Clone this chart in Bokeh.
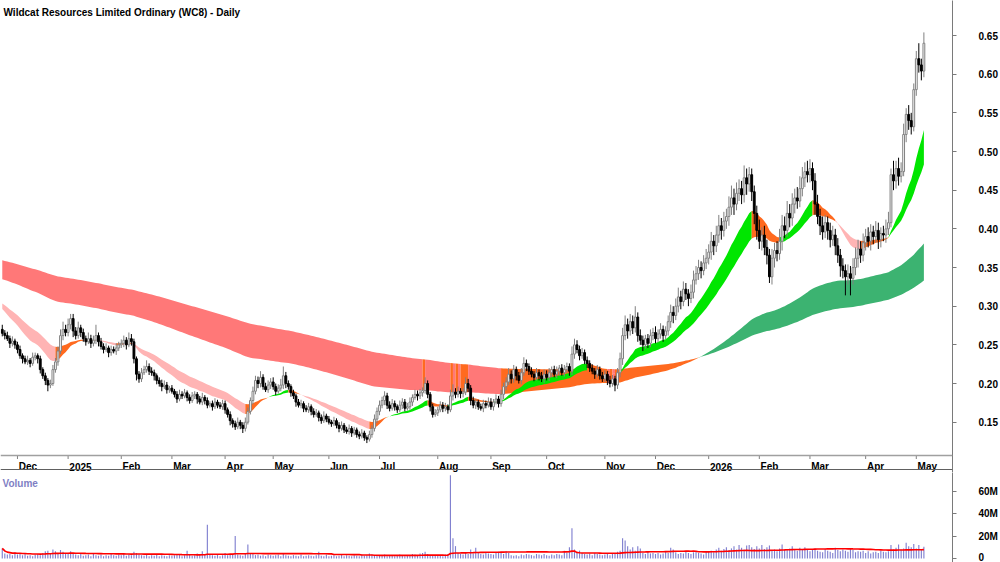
import numpy as np
import pandas as pd
from bokeh.plotting import figure
from bokeh.layouts import column
from bokeh.models import Range1d, FixedTicker, Span, Label, NumeralTickFormatter
from bokeh.core.properties import value
from bokeh.embed import file_html
from bokeh.resources import INLINE

# ---------------- data (prices in thousandths of a dollar, one list per month) -------------
month_labels = ["", "Dec", "2025", "Feb", "Mar", "Apr", "May", "Jun", "Jul", "Aug", "Sep",
                "Oct", "Nov", "Dec", "2026", "Feb", "Mar", "Apr", "May"]

close_k = [
    [265, 262, 258, 252, 255, 250],
    [244, 236, 232, 228, 230, 226, 234, 236, 232, 218, 210, 204, 198, 200, 218, 228, 242, 262, 270, 266],
    [276, 284, 268, 262, 272, 266, 258, 254, 258, 252, 256, 262, 254, 248, 244, 246, 240, 244, 242, 246, 250],
    [252, 256, 250, 258, 254, 232, 212, 206, 214, 218, 222, 216, 214, 210, 204, 200, 196, 198, 192, 194],
    [190, 186, 180, 186, 184, 188, 182, 178, 184, 186, 180, 176, 182, 178, 172, 174, 170, 176, 172, 170, 174],
    [166, 160, 152, 148, 144, 150, 146, 142, 150, 164, 178, 190, 204, 200, 208, 196, 192, 198, 202],
    [196, 190, 194, 198, 210, 200, 196, 188, 184, 176, 172, 174, 168, 166, 170, 164, 160, 162, 156, 152, 158, 154],
    [150, 148, 152, 146, 142, 146, 140, 138, 142, 136, 140, 134, 132, 136, 130, 128, 134, 142, 154, 164],
    [172, 178, 184, 172, 168, 174, 170, 166, 172, 176, 168, 170, 176, 182, 186, 184, 188, 191, 200, 186, 170, 160, 162],
    [166, 172, 168, 170, 166, 184, 189, 186, 190, 187, 189, 200, 194, 178, 172, 176, 170, 168, 174, 172, 176],
    [170, 176, 180, 174, 186, 196, 202, 212, 206, 218, 210, 204, 214, 226, 222, 216, 212, 208, 214, 210, 206, 212],
    [208, 214, 218, 212, 216, 220, 214, 218, 222, 216, 238, 250, 244, 236, 240, 230, 226, 220, 216, 212, 218, 210, 206],
    [212, 204, 200, 206, 198, 214, 232, 262, 276, 268, 280, 272, 286, 262, 256, 250, 258, 252, 262, 266],
    [258, 264, 270, 262, 268, 280, 292, 288, 300, 312, 306, 322, 316, 310, 318, 334, 342, 350, 346, 356, 362],
    [370, 384, 378, 392, 404, 398, 410, 416, 428, 440, 432, 446, 452, 444, 466, 458, 470, 448, 420, 398],
    [384, 392, 376, 366, 338, 362, 372, 368, 384, 404, 398, 420, 414, 432, 440, 436, 452, 466, 474, 470],
    [478, 462, 432, 416, 404, 396, 408, 398, 386, 392, 378, 366, 352, 346, 338, 342, 336, 350, 362, 374, 366, 382],
    [390, 384, 396, 390, 398, 386, 394, 392, 400, 408, 470, 462, 478, 468, 474, 522, 548, 540, 532, 580],
    [620, 612, 604, 640],
]
upper_wick_k = [
    [6, 4, 5, 4, 6, 3],
    [4, 5, 3, 4, 6, 3, 6, 4, 3, 4, 3, 4, 3, 5, 6, 5, 6, 8, 10, 6],
    [8, 6, 6, 5, 8, 4, 5, 4, 8, 5, 6, 14, 4, 5, 4, 6, 3, 5, 4, 6, 4],
    [5, 6, 4, 8, 6, 4, 3, 4, 6, 5, 8, 4, 5, 4, 3, 4, 5, 6, 4, 3],
    [4, 3, 4, 6, 4, 5, 3, 4, 5, 4, 3, 4, 6, 3, 4, 3, 4, 5, 3, 4, 5],
    [4, 3, 4, 3, 4, 6, 3, 4, 6, 5, 4, 6, 6, 5, 8, 4, 5, 6, 5],
    [6, 4, 5, 8, 12, 5, 4, 3, 4, 3, 4, 5, 3, 4, 5, 3, 4, 5, 3, 4, 6, 3],
    [4, 3, 5, 3, 4, 5, 3, 4, 5, 3, 4, 3, 4, 5, 3, 3, 5, 4, 6, 5],
    [6, 5, 6, 4, 5, 6, 4, 3, 6, 5, 4, 5, 6, 4, 6, 5, 5, 4, 8, 4, 3, 4, 5],
    [4, 5, 4, 5, 3, 8, 10, 5, 6, 4, 5, 8, 6, 4, 5, 4, 3, 4, 5, 4, 6],
    [5, 4, 6, 4, 6, 5, 6, 8, 5, 6, 4, 5, 6, 8, 5, 4, 5, 4, 6, 4, 5, 6],
    [5, 6, 4, 5, 6, 4, 5, 6, 5, 4, 10, 8, 6, 5, 6, 4, 5, 4, 5, 4, 6, 4, 5],
    [5, 4, 6, 5, 4, 6, 8, 10, 12, 8, 10, 8, 14, 6, 8, 6, 5, 6, 8, 6],
    [8, 6, 8, 5, 6, 8, 10, 8, 10, 12, 8, 10, 8, 6, 10, 12, 10, 10, 8, 10, 12],
    [10, 12, 8, 12, 14, 10, 12, 10, 14, 16, 12, 14, 12, 10, 16, 12, 10, 8, 8, 10],
    [14, 10, 12, 10, 8, 12, 10, 12, 16, 14, 12, 16, 12, 14, 12, 14, 16, 14, 12, 14],
    [12, 8, 10, 12, 10, 12, 10, 8, 10, 12, 8, 10, 8, 10, 8, 12, 10, 12, 14, 12, 10, 12],
    [10, 12, 10, 8, 12, 10, 8, 10, 12, 14, 8, 18, 10, 14, 12, 14, 8, 12, 10, 8],
    [10, 20, 8, 14],
]
lower_wick_k = [
    [4, 5, 3, 6, 4, 5],
    [5, 4, 6, 3, 4, 5, 3, 4, 6, 5, 4, 6, 8, 4, 3, 4, 5, 4, 6, 5],
    [5, 6, 8, 5, 4, 6, 4, 5, 3, 6, 4, 5, 6, 4, 5, 3, 6, 4, 3, 5, 4],
    [4, 5, 6, 3, 5, 6, 8, 5, 4, 3, 4, 5, 4, 6, 5, 4, 6, 3, 5, 4],
    [3, 4, 5, 3, 4, 3, 5, 4, 3, 4, 6, 3, 4, 5, 4, 3, 5, 3, 4, 3, 4],
    [5, 4, 6, 5, 4, 3, 5, 6, 4, 3, 4, 5, 4, 6, 5, 4, 3, 4, 5],
    [4, 5, 3, 4, 5, 6, 4, 5, 4, 6, 3, 4, 5, 3, 4, 5, 4, 3, 5, 4, 3, 4],
    [3, 4, 3, 4, 5, 3, 4, 3, 4, 5, 3, 4, 4, 3, 4, 5, 3, 4, 4, 5],
    [5, 4, 6, 5, 4, 3, 5, 4, 3, 5, 4, 3, 4, 5, 3, 6, 4, 5, 4, 5, 6, 4, 3],
    [4, 3, 5, 4, 5, 3, 6, 5, 4, 6, 5, 4, 5, 6, 4, 5, 4, 3, 5, 4, 3],
    [4, 5, 3, 5, 4, 6, 5, 4, 6, 5, 6, 4, 5, 4, 6, 5, 4, 5, 4, 6, 4, 5],
    [4, 5, 6, 4, 5, 6, 4, 5, 4, 6, 5, 6, 5, 6, 4, 5, 6, 5, 4, 6, 4, 5, 4],
    [4, 6, 5, 4, 8, 5, 6, 8, 6, 10, 6, 8, 6, 8, 6, 8, 5, 6, 5, 6],
    [6, 5, 6, 8, 5, 6, 8, 10, 6, 8, 10, 6, 8, 10, 6, 8, 6, 8, 10, 6, 8],
    [8, 10, 12, 8, 10, 12, 8, 10, 12, 10, 14, 8, 10, 12, 10, 14, 10, 12, 14, 12],
    [10, 12, 10, 12, 8, 10, 12, 10, 8, 12, 10, 8, 12, 10, 12, 10, 8, 10, 12, 10],
    [10, 12, 14, 10, 12, 10, 8, 12, 10, 8, 12, 10, 14, 10, 24, 10, 22, 8, 10, 12, 10, 8],
    [10, 8, 12, 10, 8, 12, 10, 8, 10, 8, 6, 12, 10, 12, 8, 6, 10, 12, 10, 6],
    [8, 10, 12, 8],
]
volume_m = [
    [9.0, 4.5, 3.5, 4.0, 3.0, 5.5],
    [3.5, 4.0, 3.0, 4.5, 2.5, 3.0, 2.0, 3.5, 4.0, 3.0, 5.0, 6.5, 7.0, 4.0, 8.0, 6.5, 5.0, 7.5, 6.0, 4.0],
    [5.0, 6.5, 4.0, 3.5, 3.0, 4.0, 2.5, 3.0, 3.5, 2.0, 4.5, 3.0, 2.5, 3.5, 2.0, 3.0, 2.5, 4.0, 3.0, 2.5, 3.5],
    [3.0, 4.0, 2.5, 3.5, 3.0, 6.0, 5.0, 3.5, 3.0, 2.5, 4.0, 2.0, 3.0, 2.5, 3.5, 2.0, 3.0, 2.5, 2.0, 3.0],
    [2.5, 3.0, 4.0, 3.5, 2.0, 3.0, 7.0, 3.5, 2.5, 3.0, 4.5, 3.0, 6.5, 3.5, 30.0, 4.0, 3.0, 2.5, 3.5, 2.0, 3.0],
    [5.0, 3.0, 3.5, 4.0, 20.0, 3.5, 3.0, 2.5, 4.0, 12.5, 5.0, 4.5, 3.0, 3.5, 2.5, 3.0, 2.0, 3.5, 3.0],
    [2.5, 3.0, 3.5, 2.0, 4.0, 3.0, 2.5, 2.0, 3.0, 2.5, 2.0, 3.5, 2.0, 2.5, 3.0, 2.5, 2.0, 3.0, 6.0, 2.5, 2.0, 3.5],
    [2.0, 2.5, 3.0, 2.0, 2.5, 3.5, 2.0, 3.0, 2.5, 2.0, 3.0, 2.5, 2.0, 3.5, 2.5, 3.0, 4.5, 3.5, 3.0, 2.5],
    [3.0, 2.5, 3.5, 2.0, 3.0, 2.5, 2.0, 3.0, 3.5, 2.5, 2.0, 3.0, 2.5, 4.0, 3.5, 3.0, 4.5, 5.0, 6.0, 4.0, 3.0, 2.5, 3.0],
    [2.5, 3.0, 2.0, 3.5, 4.0, 74.0, 18.0, 11.0, 5.0, 4.0, 3.5, 5.0, 4.0, 8.0, 4.5, 9.5, 5.0, 4.0, 3.5, 5.0, 4.5],
    [4.0, 3.5, 5.0, 6.0, 5.5, 4.0, 6.5, 5.0, 3.0, 2.5, 3.0, 2.0, 3.5, 3.0, 4.0, 3.5, 3.0, 2.5, 4.0, 3.5, 3.0, 4.0],
    [3.0, 2.5, 3.5, 3.0, 4.0, 3.5, 3.0, 7.0, 5.0, 10.0, 27.0, 8.0, 6.0, 7.0, 5.0, 4.0, 3.5, 4.5, 3.0, 5.0, 4.0, 3.5, 3.0],
    [3.5, 4.0, 3.0, 4.5, 5.0, 6.0, 7.0, 18.0, 16.0, 11.0, 8.0, 10.0, 7.0, 11.0, 9.0, 5.0, 4.0, 6.0, 4.5, 5.0],
    [4.0, 5.0, 3.5, 4.5, 6.0, 5.0, 9.5, 8.0, 5.5, 4.0, 5.0, 4.5, 6.0, 5.0, 4.0, 5.5, 6.5, 5.0, 4.5, 3.5, 6.0],
    [6.0, 7.0, 5.5, 8.0, 9.5, 7.0, 8.5, 10.0, 7.5, 9.0, 11.0, 8.0, 12.0, 9.5, 8.0, 11.5, 12.0, 10.0, 8.5, 11.0],
    [9.0, 12.0, 8.5, 10.0, 11.5, 7.0, 8.0, 6.5, 9.0, 12.5, 8.0, 7.5, 9.0, 11.0, 8.5, 7.0, 9.5, 8.0, 10.0, 7.5],
    [6.5, 8.0, 9.0, 7.0, 6.0, 5.5, 8.5, 7.0, 6.0, 5.0, 9.5, 7.5, 6.5, 8.0, 7.0, 6.0, 9.0, 7.5, 5.5, 6.5, 6.0, 7.0],
    [5.0, 6.5, 4.5, 5.5, 6.0, 5.0, 7.0, 6.0, 5.5, 6.5, 12.0, 8.0, 9.5, 12.5, 8.0, 9.0, 14.0, 11.0, 10.0, 13.0],
    [9.0, 12.0, 8.0, 10.5],
]
first_open_k = 270
price_ticks = [0.15, 0.20, 0.25, 0.30, 0.35, 0.40, 0.45, 0.50, 0.55, 0.60, 0.65]
volume_ticks = [0, 20e6, 40e6, 60e6]
volume_tick_labels = ["0", "20M", "40M", "60M"]

# moving-average ribbons (fast / slow edge of each band) and their starting states
short_periods = [18, 33]
short_seed = [0.300, 0.306]
long_periods = [135, 250]
long_seed = [0.336, 0.360]
volume_ma_period = 50

# ---------------- derived series -------------
for name, lst in (("upper", upper_wick_k), ("lower", lower_wick_k), ("volume", volume_m)):
    for m, (a, b) in enumerate(zip(close_k, lst)):
        if len(a) != len(b):
            raise ValueError(f"{name} month {m}: {len(b)} vs {len(a)}")

close = np.array([v for m in close_k for v in m]) / 1000.0
up_w = np.array([v for m in upper_wick_k for v in m]) / 1000.0
dn_w = np.array([v for m in lower_wick_k for v in m]) / 1000.0
vol = np.array([v for m in volume_m for v in m]) * 1e6
n = len(close)
idx = np.arange(n)
opn = np.r_[first_open_k / 1000.0, close[:-1]]
high = np.maximum(opn, close) + up_w
low = np.minimum(opn, close) - dn_w
month_start = np.cumsum([0] + [len(m) for m in close_k[:-1]])


def ema(series, period, seed):
    a = 2.0 / (period + 1)
    out = np.empty(len(series))
    prev = seed
    for t, x in enumerate(series):
        prev = prev + a * (x - prev)
        out[t] = prev
    return out


short_emas = np.vstack([ema(close, p_, s) for p_, s in zip(short_periods, short_seed)])
long_emas = np.vstack([ema(close, p_, s) for p_, s in zip(long_periods, long_seed)])
short_prev = np.array(short_seed)
long_prev = np.array(long_seed)
vol_ma = pd.Series(vol).rolling(volume_ma_period, min_periods=1).mean().values

# ---------------- figure geometry -------------
FW = 952
PH = 472
PX_PER_UNIT = 773.4
Y_TOP = 0.65 + 35 / PX_PER_UNIT
Y_BOT = Y_TOP - PH / PX_PER_UNIT


def py(pix):
    return Y_TOP - pix / PX_PER_UNIT


FONT = "Liberation Sans"
x_range = Range1d(-0.7, 375.3)

p = figure(frame_width=FW, frame_height=PH, x_range=x_range, y_range=Range1d(Y_BOT, Y_TOP),
           output_backend="svg", toolbar_location=None, y_axis_location="right",
           x_axis_location=None, min_border_left=0, min_border_right=48,
           min_border_top=0, min_border_bottom=0)
p.grid.visible = False
p.outline_line_color = None
p.background_fill_color = "white"
p.border_fill_color = "white"

ya = p.yaxis[0]
ya.ticker = FixedTicker(ticks=price_ticks)
ya.formatter = NumeralTickFormatter(format="0.00")
ya.axis_line_color = "#7a7a7a"
ya.major_tick_line_color = "#7a7a7a"
ya.major_tick_out = 4
ya.major_tick_in = 0
ya.minor_tick_line_color = None
ya.major_label_standoff = 22
ya.major_label_text_font = FONT
ya.major_label_text_font_size = "10px"
ya.major_label_text_font_style = "bold"
ya.major_label_text_color = "black"

COL = {"s_bull": "#00e600", "s_bear": "#ffb4b4", "mix": "#ff6a1f",
       "l_bull": "#3cb371", "l_bear": "#ff7878"}


def draw_band(fig, E, prev0, bull_col, bear_col, mix_col):
    lo = E.min(0)
    hi = E.max(0)
    slope = np.diff(np.hstack([prev0[:, None], E]), axis=1)
    gap = np.diff(E, axis=0)
    bull = (slope > 0).all(0) & (gap < 0).all(0)
    bear = (slope < 0).all(0) & (gap > 0).all(0)
    state = np.where(bull, 0, np.where(bear, 1, 2))
    cols = [bull_col, bear_col, mix_col]
    j = 0
    while j < n:
        k = j
        while k + 1 < n and state[k + 1] == state[j]:
            k += 1
        a = max(j - 1, 0)
        fig.varea(x=idx[a:k + 1], y1=lo[a:k + 1], y2=hi[a:k + 1],
                  fill_color=cols[state[j]], fill_alpha=1.0)
        j = k + 1


draw_band(p, long_emas, long_prev, COL["l_bull"], COL["l_bear"], COL["mix"])
draw_band(p, short_emas, short_prev, COL["s_bull"], COL["s_bear"], COL["mix"])

up = close >= opn
dn = ~up
p.segment(x0=idx[up], y0=low[up], x1=idx[up], y1=high[up], line_color="#808080", line_width=1)
p.segment(x0=idx[dn], y0=low[dn], x1=idx[dn], y1=high[dn], line_color="black", line_width=1)
p.vbar(x=idx[up], top=np.maximum(opn, close)[up], bottom=np.minimum(opn, close)[up], width=0.72,
       fill_color="white", line_color="#808080", line_width=1)
p.vbar(x=idx[dn], top=np.maximum(opn, close)[dn], bottom=np.minimum(opn, close)[dn], width=0.72,
       fill_color="black", line_color="black", line_width=1)

# month axis band
p.add_layout(Span(location=py(455), dimension="width", line_color="#a0a0a0", line_width=1.5))
p.add_layout(Span(location=py(469), dimension="width", line_color="#606060", line_width=1))
ms = month_start[1:]
p.segment(x0=ms, y0=py(455), x1=ms, y1=py(458.5), line_color="#808080", line_width=1)
p.text(x=ms + 0.5, y=py(466), text=month_labels[1:], text_font=value(FONT),
       text_font_size="10px", text_font_style="bold", text_baseline="alphabetic",
       text_align="left", text_color="black")

p.add_layout(Label(x=3, y=PH - 11.7, x_units="screen", y_units="screen",
                   text="Wildcat Resources Limited Ordinary (WC8) - Daily",
                   text_font=FONT, text_font_size="10px", text_font_style="bold",
                   text_color="black", text_baseline="alphabetic"))

# ---------------- volume panel -------------
VH = 562 - PH
V_PX_PER_M = 1.125
v_top = ((558 - PH) / V_PX_PER_M) * 1e6
v_bot = -(4 / V_PX_PER_M) * 1e6
pv = figure(frame_width=FW, frame_height=VH, x_range=x_range, y_range=Range1d(v_bot, v_top),
            output_backend="svg", toolbar_location=None, y_axis_location="right",
            x_axis_location=None, min_border_left=0, min_border_right=48,
            min_border_top=0, min_border_bottom=0)
pv.grid.visible = False
pv.outline_line_color = None
pv.background_fill_color = "white"
pv.border_fill_color = "white"
va = pv.yaxis[0]
va.ticker = FixedTicker(ticks=volume_ticks)
va.major_label_overrides = {int(t): s for t, s in zip(volume_ticks, volume_tick_labels)}
va.axis_line_color = "#7a7a7a"
va.major_tick_line_color = "#7a7a7a"
va.major_tick_out = 4
va.major_tick_in = 0
va.minor_tick_line_color = None
va.major_label_standoff = 22
va.major_label_text_font = FONT
va.major_label_text_font_size = "10px"
va.major_label_text_font_style = "bold"
va.major_label_text_color = "black"

pv.vbar(x=idx, top=vol, bottom=0, width=0.45, fill_color="#8080d0", line_color=None)
pv.line(x=idx, y=vol_ma, line_color="#ff0000", line_width=1.6)
pv.add_layout(Label(x=2, y=VH - 10.7, x_units="screen", y_units="screen", text="Volume",
                    text_font=FONT, text_font_size="10px", text_font_style="bold",
                    text_color="#7f7fc4", text_baseline="alphabetic"))

layout = column(p, pv, spacing=0)
open("out.html", "w").write(file_html(layout, INLINE))
